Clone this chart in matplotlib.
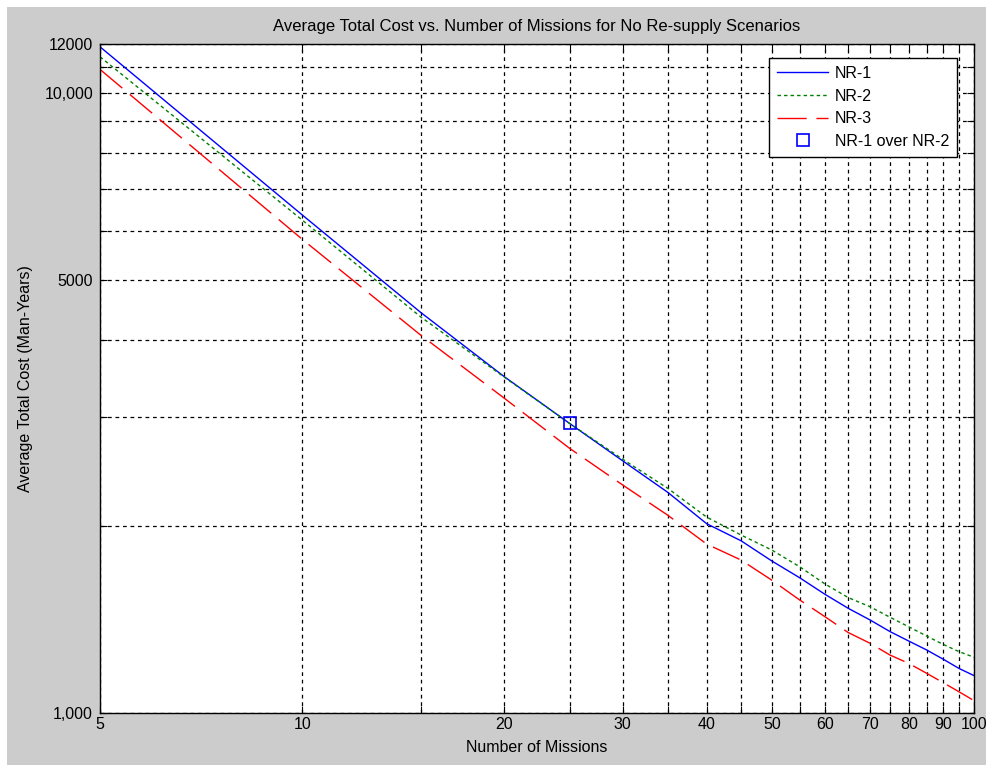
import matplotlib
matplotlib.use("Agg")
import matplotlib.pyplot as plt
from matplotlib.patches import Rectangle
from matplotlib.ticker import FixedLocator, FixedFormatter, NullLocator

# ---- data ----
missions = [5, 10, 15, 20, 25, 30, 35, 40, 45, 50, 55, 60, 65, 70, 75, 80, 85, 90, 95, 100]
nr1 = [11875, 6360, 4430, 3486, 2932, 2551, 2270, 2020, 1896, 1759, 1653, 1554,
       1475, 1413, 1353, 1306, 1264, 1221, 1180, 1149]
nr2 = [11443, 6240, 4357, 3480, 2932, 2566, 2304, 2070, 1937, 1832, 1722, 1615,
       1535, 1484, 1427, 1377, 1331, 1290, 1256, 1230]
nr3 = [10920, 5810, 4072, 3218, 2673, 2332, 2085, 1873, 1765, 1638, 1522, 1430,
       1348, 1296, 1240, 1202, 1159, 1119, 1082, 1047]
cross_x = [25]
cross_y = [2932]

xtick_vals = [5, 10, 15, 20, 25, 30, 35, 40, 45, 50, 55, 60, 65, 70, 75, 80, 85, 90, 95, 100]
xtick_labels = ["5", "10", "", "20", "", "30", "", "40", "", "50", "", "60", "", "70", "", "80", "", "90", "", "100"]
ytick_vals = [1000, 2000, 3000, 4000, 5000, 6000, 7000, 8000, 9000, 10000, 11000, 12000]
ytick_labels = ["1,000", "", "", "", "5000", "", "", "", "", "10,000", "", "12000"]

plt.rcParams['font.family'] = ['Liberation Sans', 'DejaVu Sans']

W, H = 986, 766
fig = plt.figure(figsize=(W / 100, H / 100), dpi=100, facecolor='white')
# gray MATLAB-like figure background with a thin white border on top/left
fig.patches.append(Rectangle((7 / W, 1 - 765 / H), 1 - 7 / W, 758 / H,
                             transform=fig.transFigure, facecolor='#cccccc',
                             edgecolor='none', zorder=-10))

L, R, T, B = 100, 974, 44, 713
ax = fig.add_axes([L / W, 1 - B / H, (R - L) / W, (B - T) / H])
ax.set_facecolor('white')
ax.set_xscale('log')
ax.set_yscale('log')
ax.set_xlim(5, 100)
ax.set_ylim(1000, 12000)

ax.plot(missions, nr1, color='#0000ff', lw=1.0, ls='-', label='NR-1')
ax.plot(missions, nr2, color='#008000', lw=1.0, ls=(0, (2.5, 2.2)), label='NR-2')
ax.plot(missions, nr3, color='#ff0000', lw=1.0, ls=(0, (21, 7)), label='NR-3')
ax.plot(cross_x, cross_y, ls='none', marker='s', ms=8, mfc='none', mec='#0000ff',
        mew=1.2, label='NR-1 over NR-2')

ax.xaxis.set_major_locator(FixedLocator(xtick_vals))
ax.xaxis.set_major_formatter(FixedFormatter(xtick_labels))
ax.xaxis.set_minor_locator(NullLocator())
ax.yaxis.set_major_locator(FixedLocator(ytick_vals))
ax.yaxis.set_major_formatter(FixedFormatter(ytick_labels))
ax.yaxis.set_minor_locator(NullLocator())

ax.grid(True, which='major', color='black', lw=0.9, ls=(0, (3, 3)))
ax.tick_params(which='both', direction='in', length=5, width=0.8, color='black',
               top=True, right=True, labelsize=11.5, labelcolor='black')
ax.tick_params(axis='x', pad=3)
ax.tick_params(axis='y', pad=5)
for s in ax.spines.values():
    s.set_color('black')
    s.set_linewidth(1.0)

ax.set_title('Average Total Cost vs. Number of Missions for No Re-supply Scenarios',
             fontsize=12, pad=9)
ax.set_xlabel('Number of Missions', fontsize=11.5)
ax.xaxis.set_label_coords(0.5, -(740 - B) / (B - T))
ax.set_ylabel('Average Total Cost (Man-Years)', fontsize=11.5)
ax.yaxis.set_label_coords((33 - L) / (R - L), 0.5)

leg = ax.legend(loc='upper right', bbox_to_anchor=(957 / W, 1 - 58 / H),
                bbox_transform=fig.transFigure, borderaxespad=0, fontsize=11.5,
                fancybox=False, shadow=False, framealpha=1, edgecolor='black',
                handlelength=3.2, labelspacing=0.48, borderpad=0.5,
                handletextpad=0.4)
leg.get_frame().set_linewidth(1.0)

fig.savefig('out.png', dpi=100, facecolor=fig.get_facecolor())
